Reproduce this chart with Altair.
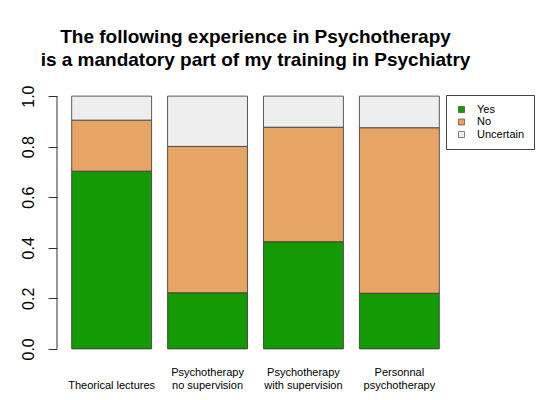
import altair as alt
import pandas as pd

categories = ["Theorical lectures", "Psychotherapy\nno supervision",
              "Psychotherapy\nwith supervision", "Personnal\npsychotherapy"]
yes_vals = [0.703, 0.222, 0.424, 0.220]
no_vals = [0.202, 0.579, 0.453, 0.655]
uncertain_vals = [0.095, 0.199, 0.123, 0.125]
responses = ["Yes", "No", "Uncertain"]
colors = ["#149A04", "#E6A465", "#EEEEEE"]
y_ticks = [0.0, 0.2, 0.4, 0.6, 0.8, 1.0]

rows = []
for i, c in enumerate(categories):
    for j, (r, vals) in enumerate(zip(responses, [yes_vals, no_vals, uncertain_vals])):
        rows.append({"cat": c, "resp": r, "val": vals[i], "ord": j})
df = pd.DataFrame(rows)

FONT = "Liberation Sans"

label_expr = ("length(split(datum.label, '\\n')) == 1 ? ['', datum.label] : "
              "split(datum.label, '\\n')")

bars = alt.Chart(df).mark_bar(stroke="#333333", strokeWidth=0.8).encode(
    x=alt.X("cat:N", sort=categories,
            scale=alt.Scale(paddingInner=0.1667, paddingOuter=0.153),
            axis=alt.Axis(title=None, domain=False, ticks=False, labelAngle=0,
                          labelExpr=label_expr,
                          labelFontSize=11, labelFont=FONT, labelColor="#000000",
                          labelLineHeight=13, labelBaseline="bottom",
                          labelPadding=18)),
    y=alt.Y("val:Q", stack="zero",
            scale=alt.Scale(domain=[-0.04, 1.04], nice=False, zero=False),
            axis=alt.Axis(title=None, values=y_ticks, format=".1f", grid=False,
                          domain=False, tickSize=9, tickColor="#333333",
                          labelAngle=-90, labelAlign="center",
                          labelBaseline="alphabetic", labelPadding=15,
                          labelFontSize=16, labelFont=FONT, labelColor="#000000")),
    color=alt.Color("resp:N", sort=responses,
                    scale=alt.Scale(domain=responses, range=colors),
                    legend=alt.Legend(title=None, orient="none", legendX=389, legendY=9,
                                      strokeColor="#444444", fillColor="white",
                                      padding=9, symbolType="square", symbolSize=36,
                                      symbolStrokeColor="#333333", symbolStrokeWidth=0.6,
                                      labelFontSize=11, labelFont=FONT,
                                      labelColor="#000000", rowPadding=0.5,
                                      labelOffset=10, symbolOffset=1)),
    order=alt.Order("ord:Q"),
)

axis_line = alt.Chart(pd.DataFrame({"a": [0]})).mark_rule(color="#333333", strokeWidth=1).encode(
    x=alt.value(0),
    y=alt.datum(0.0),
    y2=alt.datum(1.0),
)

chart = alt.layer(bars, axis_line).properties(
    width=397,
    height=273,
    title=alt.TitleParams(
        text=["The following experience in Psychotherapy",
              "is a mandatory part of my training in Psychiatry"],
        fontSize=19, fontWeight="bold", font=FONT, color="#000000",
        anchor="middle", lineHeight=22.5, offset=15),
    autosize=alt.AutoSizeParams(type="none"),
    padding={"left": 57, "top": 86, "right": 95, "bottom": 41},
).configure(background="white", view={"stroke": None, "strokeWidth": 0})

chart.save("out.html", embed_options={"renderer": "svg", "actions": False})
